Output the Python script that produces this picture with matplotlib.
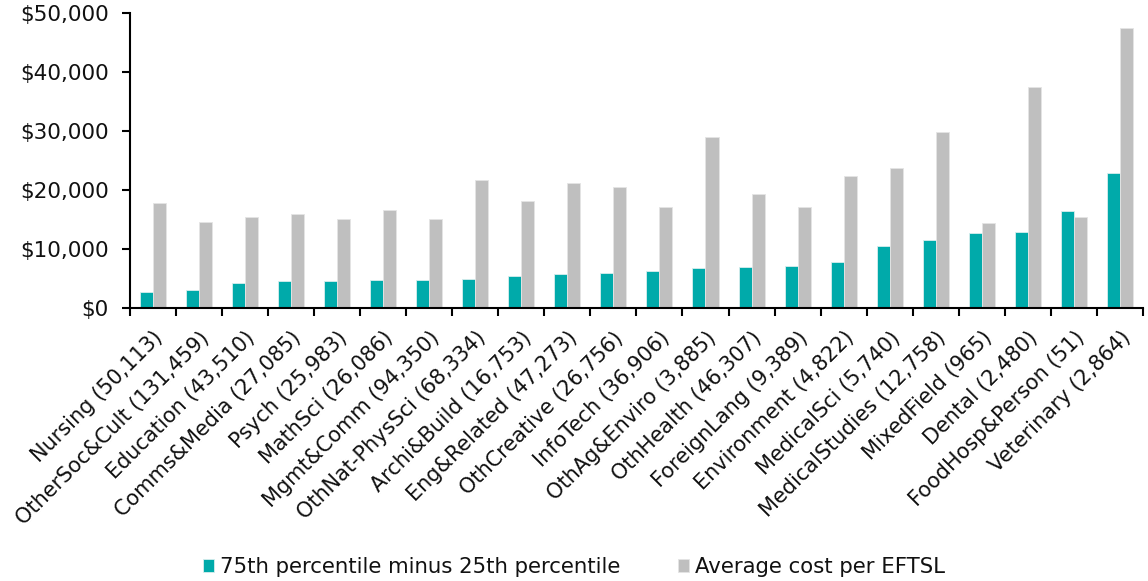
import numpy as np
import matplotlib
matplotlib.use("Agg")
from matplotlib import pyplot as plt
from matplotlib.ticker import FuncFormatter, FixedLocator

fields = ["Nursing (50,113)", "OtherSoc&Cult (131,459)", "Education (43,510)",
          "Comms&Media (27,085)", "Psych (25,983)", "MathSci (26,086)",
          "Mgmt&Comm (94,350)", "OthNat-PhysSci (68,334)", "Archi&Build (16,753)",
          "Eng&Related (47,273)", "OthCreative (26,756)", "InfoTech (36,906)",
          "OthAg&Enviro (3,885)", "OthHealth (46,307)", "ForeignLang (9,389)",
          "Environment (4,822)", "MedicalSci (5,740)", "MedicalStudies (12,758)",
          "MixedField (965)", "Dental (2,480)", "FoodHosp&Person (51)",
          "Veterinary (2,864)"]

# interquartile spread of cost per EFTSL
iqr = [2700, 3100, 4300, 4700, 4700, 4750, 4800, 4970, 5500, 5760, 6000,
       6300, 6800, 6950, 7200, 7900, 10600, 11600, 12800, 12900, 16500, 22900]

# mean cost per EFTSL
avg_cost = [17900, 14600, 15400, 16000, 15100, 16700, 15100, 21700, 18200,
            21200, 20600, 17200, 29000, 19400, 17200, 22400, 23800, 29900,
            14500, 37500, 15500, 47600]

teal = "#00AAAA"
grey = "#BFBFBF"

plt.rcParams["font.family"] = "DejaVu Sans"
plt.rcParams["text.color"] = "#111111"

fig = plt.figure(figsize=(11.48, 5.81), dpi=100)
ax = fig.add_axes([0.113, 0.4694, 0.8827, 0.5076])

x = np.arange(len(fields))
w = 0.283
ax.bar(x - w / 2, iqr, width=w, color=teal, edgecolor="#d8eeee", linewidth=0.6,
       label="75th percentile minus 25th percentile")
ax.bar(x + w / 2, avg_cost, width=w, color=grey, edgecolor="#e4e4e4", linewidth=0.6,
       label="Average cost per EFTSL")

ax.set_xlim(-0.5, len(fields) - 0.5)
ax.set_ylim(0, 50000)
ax.set_yticks(range(0, 50001, 10000))
ax.yaxis.set_major_formatter(FuncFormatter(lambda v, p: "${:,.0f}".format(v)))

# ticks sit between categories, labels at category centres
ax.xaxis.set_major_locator(FixedLocator(np.arange(-0.5, len(fields), 1.0)))
ax.xaxis.set_major_formatter(FuncFormatter(lambda v, p: ""))
ax.set_xticks(x, minor=True)
ax.set_xticklabels(fields, minor=True, rotation=45, ha="right",
                   rotation_mode="anchor", fontsize=15)
ax.tick_params(axis="x", which="minor", length=0, pad=14, labelcolor="#111111")
ax.tick_params(axis="x", which="major", length=6, width=1.5, direction="out")
ax.tick_params(axis="y", length=6, width=1.5, labelsize=15.5, pad=9,
               labelcolor="#111111")

for s in ["top", "right"]:
    ax.spines[s].set_visible(False)
for s in ["left", "bottom"]:
    ax.spines[s].set_linewidth(1.5)
    ax.spines[s].set_color("black")

fig.legend(loc="lower center", ncol=2, frameon=False, fontsize=15.3,
           bbox_to_anchor=(0.5, -0.026), handlelength=0.52, handleheight=0.52,
           handletextpad=0.28, columnspacing=2.7)

fig.savefig("out.png", dpi=100)
